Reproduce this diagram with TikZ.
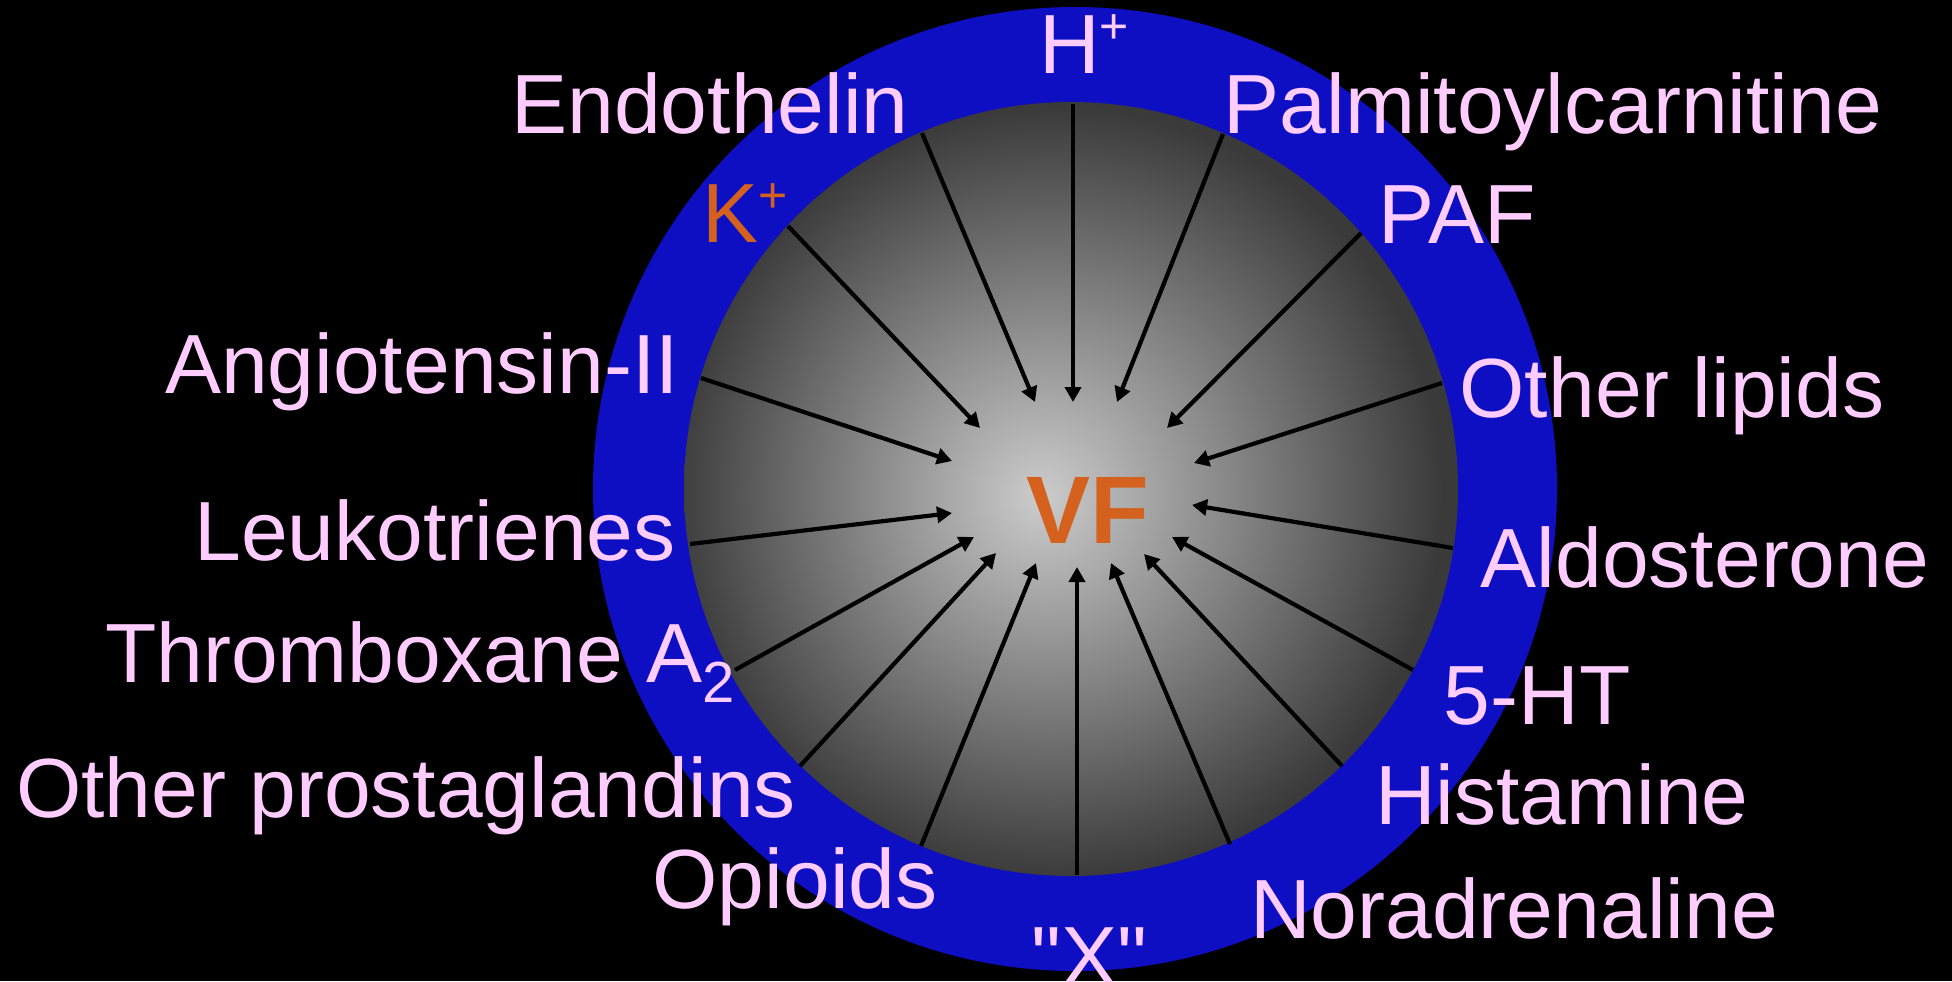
\documentclass[tikz,border=0pt]{standalone}
\usepackage{fontspec}
\setmainfont{Liberation Sans}
\newfontfamily\quotefont{Liberation Sans}[Ligatures=TeXOff]
\usetikzlibrary{arrows.meta}
\definecolor{ringblue}{RGB}{14,14,194}
\definecolor{labpink}{RGB}{255,204,255}
\definecolor{vforange}{RGB}{212,98,30}
\definecolor{gcenter}{RGB}{204,204,204}
\definecolor{gedge}{RGB}{58,58,58}
\pgfdeclareradialshading{vfshade}{\pgfpoint{-2bp}{-0.5bp}}{color(0bp)=(gcenter); color(25bp)=(gedge); color(50bp)=(gedge)}
\newcommand{\upidx}[1]{\raisebox{15pt}{\fontsize{25}{25}\selectfont #1}}
\newcommand{\downidx}[1]{\raisebox{-10pt}{\fontsize{29}{29}\selectfont #1}}
\begin{document}
\begin{tikzpicture}[x=0.5pt,y=-0.5pt,
  lab/.style={text=labpink,font=\fontsize{42}{42}\selectfont,inner sep=0pt,anchor=base},
  inarrow/.style={-{Triangle[length=7.5pt,width=8pt]},line width=2.1pt,draw=black}]
\fill[black] (0,0) rectangle (1952,981);
\useasboundingbox (0,0) rectangle (1952,981);
\fill[ringblue] (1075,489) circle[radius=482];
\shade[shading=vfshade] (1071,489) circle[radius=387];
% arrow end points
\coordinate (s1) at (922,133);   \coordinate (t1) at (1035,402);
\coordinate (s2) at (1073,104);  \coordinate (t2) at (1073,402);
\coordinate (s3) at (1223,134);  \coordinate (t3) at (1117,402);
\coordinate (s4) at (788,226);   \coordinate (t4) at (980,428);
\coordinate (s5) at (1361,233);  \coordinate (t5) at (1167,428);
\coordinate (s6) at (701,378);   \coordinate (t6) at (952,461);
\coordinate (s7) at (1442,383);  \coordinate (t7) at (1194,463);
\coordinate (s8) at (690,544);   \coordinate (t8) at (952,513);
\coordinate (s9) at (1453,548);  \coordinate (t9) at (1192,505);
\coordinate (s10) at (735,670);  \coordinate (t10) at (974,537);
\coordinate (s11) at (1413,670); \coordinate (t11) at (1172,537);
\coordinate (s12) at (800,766);  \coordinate (t12) at (996,553);
\coordinate (s13) at (1342,766); \coordinate (t13) at (1144,554);
\coordinate (s14) at (921,846);  \coordinate (t14) at (1036,563);
\coordinate (s15) at (1230,844); \coordinate (t15) at (1111,563);
\coordinate (s16) at (1077,875); \coordinate (t16) at (1077,567);
\foreach \i in {1,...,16} \draw[inarrow] (s\i) -- (t\i);
% labels
\node[lab] (hplus) at (1084,73) {H\upidx{+}};
\node[lab] (endo) at (710,133) {Endothelin};
\node[lab] (palm) at (1553,133) {Palmitoylcarnitine};
\node[lab,text=vforange] (kplus) at (745,242) {K\upidx{+}};
\node[lab] (paf) at (1457,243) {PAF};
\node[lab] (angio) at (422,393) {Angiotensin-II};
\node[lab] (lipids) at (1672,417) {Other lipids};
\node[lab] (leuko) at (435,560) {Leukotrienes};
\node[lab] (aldo) at (1705,587) {Aldosterone};
\node[lab] (thromb) at (420,682) {Thromboxane A\downidx{2}};
\node[lab] (ht) at (1537,724) {5-HT};
\node[lab] (prosta) at (406,817) {Other prostaglandins};
\node[lab] (hist) at (1562,824) {Histamine};
\node[lab] (opio) at (795,908) {Opioids};
\node[lab] (norad) at (1514,938) {Noradrenaline};
\node[lab] (xx) at (1089,985) {\quotefont "X"};
\node[anchor=base,inner sep=0pt,text=vforange,font=\fontsize{48}{48}\selectfont\bfseries] (vf) at (1088,543) {VF};
\end{tikzpicture}
\end{document}
